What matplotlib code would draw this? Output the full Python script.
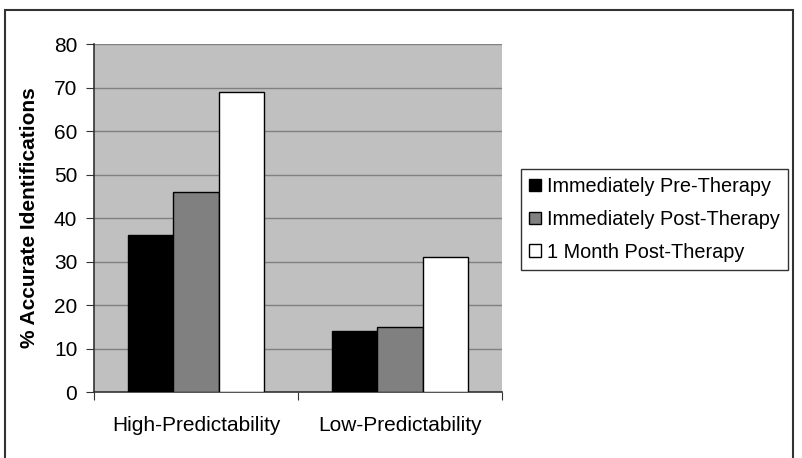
#! /usr/bin/env python

# Accuracy of identifications by predictability, before and after therapy

import numpy as np
import matplotlib
matplotlib.use("Agg")
import matplotlib.pyplot as plt
from matplotlib.patches import Rectangle

categories = ["High-Predictability", "Low-Predictability"]
series_names = ["Immediately Pre-Therapy", "Immediately Post-Therapy", "1 Month Post-Therapy"]
pre_therapy = [36, 14]
post_therapy = [46, 15]
month_post = [69, 31]
y_ticks = [0, 10, 20, 30, 40, 50, 60, 70, 80]

plt.rcParams["font.family"] = ["Liberation Sans", "DejaVu Sans"]

fig = plt.figure(figsize=(8.02, 4.58), dpi=100)
ax = fig.add_axes([0.1172, 0.1441, 0.5088, 0.7598])

# outer chart frame, open at the bottom like the cropped original
fig.patches.append(Rectangle((5 / 802, -0.05), 788 / 802, 1.05 - 10 / 458,
                             transform=fig.transFigure, fill=False,
                             edgecolor="#333333", linewidth=1.5))

ax.set_facecolor("#C0C0C0")
x = np.arange(len(categories))
width = 1 / 4.5
colors = ["#000000", "#808080", "#FFFFFF"]
for i, (vals, col, name) in enumerate(zip([pre_therapy, post_therapy, month_post], colors, series_names)):
    ax.bar(x + (i - 1) * width, vals, width, color=col, edgecolor="black",
           linewidth=1, label=name, zorder=3)

ax.set_xlim(-0.5, 1.5)
ax.set_ylim(0, 80)
ax.set_yticks(y_ticks)
ax.yaxis.grid(True, color="#808080", linewidth=1, zorder=0)
ax.set_axisbelow(True)
ax.tick_params(axis="y", labelsize=15, length=6, color="#333333", pad=6)

# category boundaries get the tick marks, names sit between them
ax.set_xticks([-0.5, 0.5, 1.5])
ax.set_xticklabels([])
ax.set_xticks(x, minor=True)
ax.set_xticklabels(categories, minor=True, fontsize=15)
ax.tick_params(axis="x", which="major", length=6, color="#333333")
ax.tick_params(axis="x", which="minor", length=0, pad=17)

for s in ["top", "right"]:
    ax.spines[s].set_visible(False)
for s in ["left", "bottom"]:
    ax.spines[s].set_color("#333333")
    ax.spines[s].set_linewidth(1.2)

ax.set_ylabel("% Accurate Identifications", fontsize=15, fontweight="bold", labelpad=11)

leg = fig.legend(loc="upper left", bbox_to_anchor=(521 / 802, 1 - 169 / 458),
                 fontsize=14.3, frameon=True, fancybox=False, edgecolor="black",
                 handlelength=0.6, handleheight=0.6, handletextpad=0.3,
                 borderpad=0.4, labelspacing=0.7, borderaxespad=0)
leg.get_frame().set_linewidth(1)

fig.savefig("out.png", dpi=100)
